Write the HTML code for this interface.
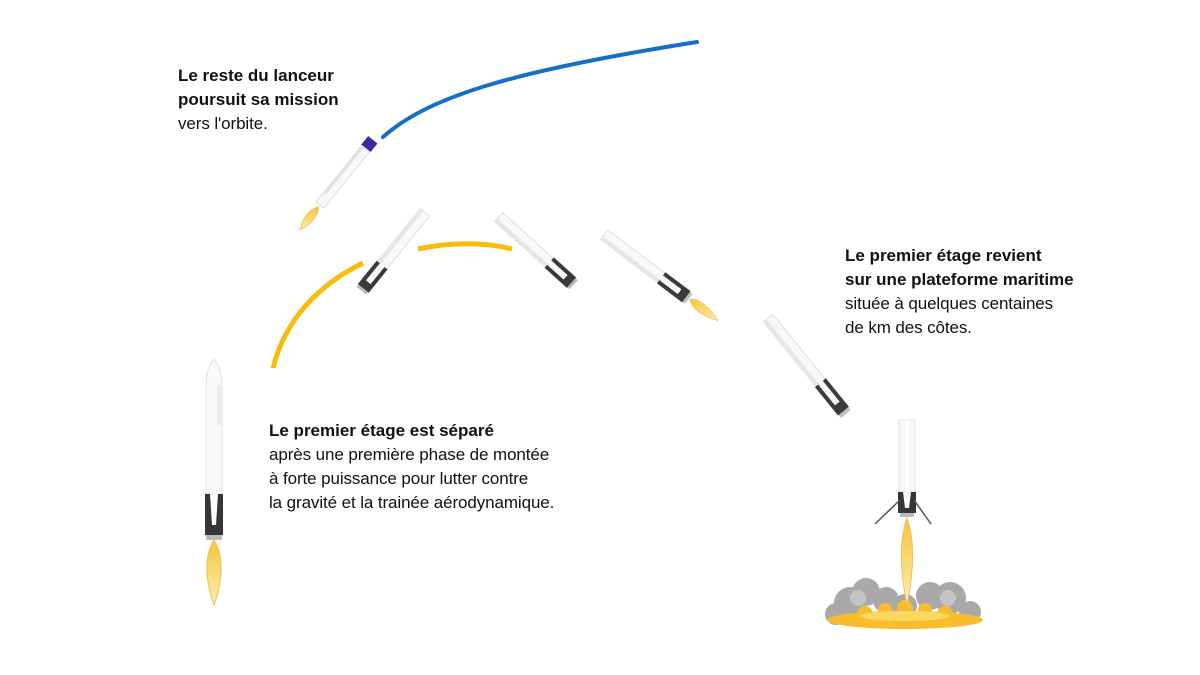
<!DOCTYPE html>
<html><head><meta charset="utf-8"><style>
html,body{margin:0;padding:0;background:#fff;}
body{width:1200px;height:675px;position:relative;overflow:hidden;font-family:"Liberation Sans",sans-serif;color:#111;}
.t{position:absolute;font-size:17px;line-height:24px;letter-spacing:-0.1px;}
.t b{font-weight:bold;letter-spacing:0;}
svg{position:absolute;left:0;top:0;}
</style></head><body>
<svg width="1200" height="675" viewBox="0 0 1200 675">
<defs>
<linearGradient id="fl" x1="0" y1="0" x2="0" y2="1">
<stop offset="0" stop-color="#f6c23a"/><stop offset="1" stop-color="#fdf0b0"/></linearGradient>
<g id="stage">
<rect x="-6" y="-100" width="12" height="100" fill="#f8f8f8" stroke="#dedede" stroke-width="1"/>
<rect x="-6" y="-100" width="4" height="70" fill="#e6e6e6"/>
<path d="M-7,-32 L-3,-32 L-3,-10 L3,-10 L3,-32 L7,-32 L7,-2 L-7,-2 Z" fill="#3a3a3a"/>
<rect x="-6" y="-2" width="12" height="3" fill="#bbb"/>
</g>
<path id="flame" d="M0,0 C-6,8 -6,25 0,45 C6,25 6,8 0,0 Z" fill="url(#fl)" stroke="#f0c060" stroke-width="0.8"/>
</defs>
<path d="M383,137 C430,95 520,70 697,42" fill="none" stroke="#1570c4" stroke-width="4" stroke-linecap="round"/>
<path d="M273,368 C285,320 318,285 363,263" fill="none" stroke="#f7bd0c" stroke-width="5"/>
<path d="M418,249 C450,242 485,242 512,249" fill="none" stroke="#f7bd0c" stroke-width="5"/>
<path d="M206,385 C206,372 210,364 214,359 C218,364 222,372 222,385 L222,494 L206,494 Z" fill="#f9f9f9" stroke="#e2e2e2"/>
<rect x="217" y="385" width="5" height="40" fill="#ececec"/>
<path d="M205,494 L210,494 L212,525 L216,525 L218,494 L223,494 L223,535 L205,535 Z" fill="#363636"/>
<rect x="206" y="535" width="16" height="5" fill="#bbb"/>
<path d="M214,540 C204,555 205,580 214,605 C223,580 224,555 214,540 Z" fill="url(#fl)" stroke="#f0c060"/>
<g transform="translate(320,205) rotate(39)">
<rect x="-5" y="-72" width="10" height="72" fill="#f8f8f8" stroke="#dedede"/>
<rect x="-5" y="-72" width="3" height="60" fill="#e2e2e2"/>
<rect x="-6" y="-84" width="12" height="11" fill="#3a2aa0"/>
<path d="M0,2 C-6,10 -5,22 0,32 C5,22 6,10 0,2 Z" fill="url(#fl)" stroke="#f0c060" stroke-width="0.8"/>
</g>
<g transform="translate(362,290) rotate(39)"><use href="#stage"/></g>
<g transform="translate(573,284) rotate(-48)"><use href="#stage"/></g>
<g transform="translate(688,298) rotate(-53) scale(1,1.05)"><use href="#stage"/><g transform="translate(0,2) scale(1,0.75)"><use href="#flame"/></g></g>
<g transform="translate(845,413) rotate(-39) scale(1,1.22)"><use href="#stage"/></g>
<rect x="899" y="420" width="16" height="72" fill="#f8f8f8" stroke="#e0e0e0"/>
<rect x="905" y="420" width="4" height="72" fill="#fff"/>
<path d="M898,492 L903,492 L905,508 L909,508 L911,492 L916,492 L916,513 L898,513 Z" fill="#363636"/>
<line x1="900" y1="500" x2="875" y2="524" stroke="#555" stroke-width="1.5"/>
<line x1="914" y1="500" x2="931" y2="524" stroke="#555" stroke-width="1.5"/>
<rect x="900" y="513" width="14" height="4" fill="#bbb"/>
<g fill="#a9a9a9">
<circle cx="850" cy="603" r="16"/><circle cx="866" cy="592" r="14"/><circle cx="886" cy="600" r="13"/>
<circle cx="930" cy="596" r="14"/><circle cx="950" cy="598" r="16"/><circle cx="836" cy="614" r="11"/><circle cx="970" cy="612" r="11"/>
<circle cx="905" cy="606" r="12"/>
</g>
<g fill="#c4c4c4"><circle cx="858" cy="598" r="8"/><circle cx="948" cy="598" r="8"/></g>
<g fill="#f7bd2c">
<ellipse cx="905" cy="620" rx="78" ry="9"/><circle cx="865" cy="614" r="8"/><circle cx="945" cy="614" r="8"/><circle cx="885" cy="610" r="7"/><circle cx="925" cy="610" r="7"/><circle cx="905" cy="608" r="8"/>
</g>
<ellipse cx="905" cy="616" rx="45" ry="5" fill="#fbd860"/>
<path d="M907,518 C899,540 900,570 907,605 C914,570 915,540 907,518 Z" fill="url(#fl)" stroke="#f0c060"/>
</svg>
<div class="t" style="left:178px;top:64px;"><b>Le reste du lanceur<br>poursuit sa mission</b><br>vers l'orbite.</div>
<div class="t" style="left:269px;top:419px;"><b>Le premier étage est séparé</b><br>après une première phase de montée<br>à forte puissance pour lutter contre<br>la gravité et la trainée aérodynamique.</div>
<div class="t" style="left:845px;top:244px;"><b>Le premier étage revient<br>sur une plateforme maritime</b><br>située à quelques centaines<br>de km des côtes.</div>
</body></html>
